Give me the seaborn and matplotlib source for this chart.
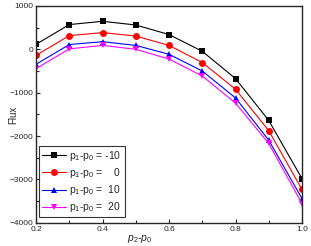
import numpy as np
import pandas as pd
import matplotlib
matplotlib.use("Agg")
import matplotlib.pyplot as plt
import seaborn as sns
from matplotlib.ticker import MultipleLocator, FormatStrFormatter

sns.set_style("ticks")
plt.rcParams['font.family'] = ['Liberation Sans', 'DejaVu Sans']
plt.rcParams['mathtext.fontset'] = 'custom'
plt.rcParams['mathtext.rm'] = 'Liberation Sans'
plt.rcParams['mathtext.it'] = 'Liberation Sans:italic'

x_vals = [0.2, 0.3, 0.4, 0.5, 0.6, 0.7, 0.8, 0.9, 1.0]
flux_m10 = [115, 570, 645, 560, 340, -46, -675, -1640, -2980]
flux_0 = [-140, 315, 385, 305, 90, -305, -920, -1875, -3230]
flux_10 = [-345, 110, 175, 90, -115, -500, -1120, -2095, -3440]
flux_20 = [-445, 10, 90, 0, -225, -615, -1240, -2170, -3555]
labels = [r"p$_1$-p$_0$ = -10", r"p$_1$-p$_0$ =    0", r"p$_1$-p$_0$ =  10", r"p$_1$-p$_0$ =  20"]
colors = ["#000000", "#ff0000", "#0000ff", "#ff00ff"]
markers = ["s", "o", "^", "v"]

series = [flux_m10, flux_0, flux_10, flux_20]
df = pd.concat([pd.DataFrame({"x": x_vals, "flux": s, "series": lab}) for s, lab in zip(series, labels)])

fig = plt.figure(figsize=(3.11, 2.46), dpi=100)
ax = fig.add_axes([0.116, 0.094, 0.855, 0.882])
sns.lineplot(data=df, x="x", y="flux", hue="series", style="series",
             palette=dict(zip(labels, colors)), markers=dict(zip(labels, markers)),
             dashes=False, markersize=5, linewidth=0.8, markeredgewidth=0, ax=ax)

ax.set_xlim(0.2, 1.0)
ax.set_ylim(-4000, 1000)
ax.xaxis.set_major_locator(MultipleLocator(0.2))
ax.xaxis.set_minor_locator(MultipleLocator(0.1))
ax.xaxis.set_major_formatter(FormatStrFormatter('%.1f'))
ax.yaxis.set_major_locator(MultipleLocator(1000))
ax.yaxis.set_minor_locator(MultipleLocator(500))
ax.tick_params(which='both', direction='in', labelsize=6, width=0.8, pad=2)
ax.tick_params(which='major', length=3)
ax.tick_params(which='minor', length=2)
for sp in ax.spines.values():
    sp.set_linewidth(1.0)
    sp.set_visible(True)

ax.set_ylabel("Flux", fontsize=7)
ax.yaxis.set_label_coords(-0.066, 0.5)
ax.set_xlabel(r"$p_2$-$p_0$", fontsize=7.5)
ax.xaxis.set_label_coords(0.39, -0.045)

leg = ax.legend(loc='lower left', bbox_to_anchor=(0.012, 0.025), fontsize=7.5,
                frameon=True, fancybox=False, edgecolor='black',
                handlelength=2.3, handletextpad=0.3, borderpad=0.3, labelspacing=0.3,
                borderaxespad=0.0)
leg.get_frame().set_linewidth(0.8)

fig.savefig("out.png", dpi=100)
